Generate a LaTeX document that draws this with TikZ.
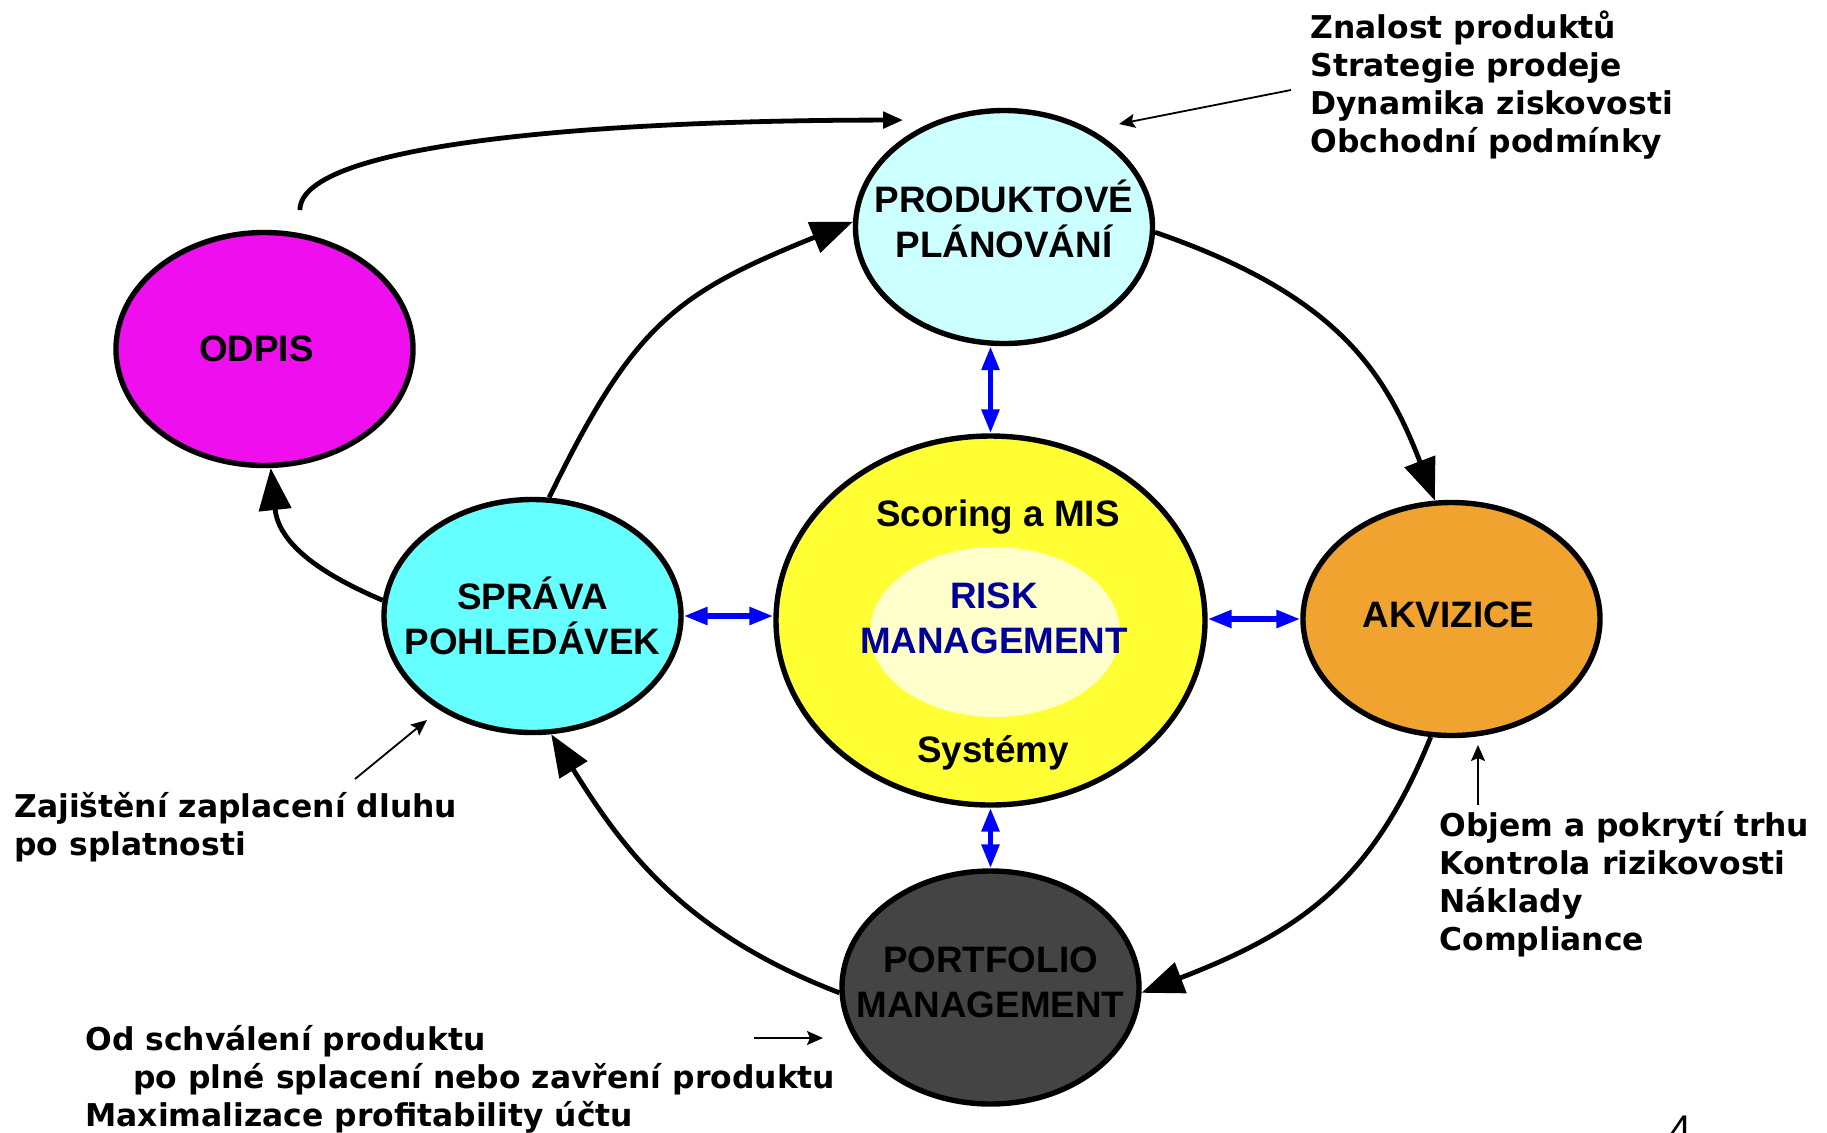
\documentclass[tikz,border=0pt]{standalone}
\usepackage{fontspec}
\setmainfont{Liberation Sans}
\newfontfamily\notefont{DejaVu Sans}
\usetikzlibrary{arrows.meta,shapes.geometric}
\definecolor{planfill}{RGB}{204,255,255}
\definecolor{odpisfill}{RGB}{238,14,238}
\definecolor{spravafill}{RGB}{102,255,255}
\definecolor{corefill}{RGB}{255,255,51}
\definecolor{innerfill}{RGB}{255,255,204}
\definecolor{akvfill}{RGB}{240,163,46}
\definecolor{portfill}{RGB}{68,68,68}
\definecolor{risknavy}{RGB}{0,0,153}
\begin{document}
\begin{tikzpicture}[x=0.5pt, y=-0.5pt]
\tikzset{every node/.style={inner sep=0pt}}
\useasboundingbox (0,0) rectangle (1827,1132);

% phases of the cycle
\tikzset{phase/.style={ellipse, draw, line width=2.7pt, minimum width=148.5pt, minimum height=116.5pt}}
\tikzset{every label/.style={font=\bfseries\fontsize{18.4}{22.5}\selectfont, align=center}}
\node[phase, fill=odpisfill, label={[xshift=-4pt]center:ODPIS}] (odpis) at (264.5,349) {};
\node[phase, fill=planfill, label={[yshift=4pt]center:{PRODUKTOVÉ\\PLÁNOVÁNÍ}}] (plan) at (1004,227) {};
\node[phase, fill=spravafill, label={center:{SPRÁVA\\POHLEDÁVEK}}] (sprava) at (532.5,616) {};
\node[phase, fill=akvfill, label={[xshift=-1.5pt, yshift=2pt]center:AKVIZICE}] (akvizice) at (1451.5,619) {};
\node[phase, fill=portfill, label={[yshift=2.5pt]center:{PORTFOLIO\\MANAGEMENT}}] (portfolio) at (990.5,987.5) {};

% risk management in the middle
\node[phase, fill=corefill, minimum width=214.5pt, minimum height=184.5pt] (core) at (990.5,620.5) {};
\node[ellipse, fill=innerfill, minimum width=125pt, minimum height=85pt] (inner) at (995,632) {};
\tikzset{every node/.style={inner sep=0pt, font=\bfseries\fontsize{18.4}{22.5}\selectfont}}
\node[anchor=base] (scoring) at (998,526) {Scoring a MIS};
\node[anchor=base] (systemy) at (993,762) {Systémy};
\node[text=risknavy, align=center] (risk) at (994,618) {RISK\\MANAGEMENT};

\tikzset{arrowstyle/.style={-{Triangle[length=21pt,width=16pt]}, line width=2.4pt}};
\path (sprava.82) edge [arrowstyle, out=64, in=202, looseness=1.2] (plan.178);
\path (plan.-2) edge [arrowstyle, out=-19, in=111, out looseness=1.25, in looseness=0.93] (akvizice.98);
\path (akvizice.-100) edge [arrowstyle, out=-112, in=21, out looseness=1.02, in looseness=1.14] (portfolio.-2);
\path (portfolio.182) edge [arrowstyle, out=159, in=-58, out looseness=1.1, in looseness=0.9] (sprava.-81);
\path (sprava.174) edge [arrowstyle, out=157, in=-84, out looseness=1.2, in looseness=1.04] (odpis.-87);
\tikzset{arrowstyle/.style={-{Triangle[length=10pt,width=8pt]}, line width=2.4pt}};
\draw[arrowstyle, shorten <=11.5pt, shorten >=17pt] (odpis.73) .. controls +(0,-90) and +(-335,0) .. (plan.122);

\tikzset{arrowstyle/.style={{Triangle[length=12pt,width=8.5pt]}-{Triangle[length=12pt,width=8.5pt]}, line width=2.8pt, blue}};
\draw[arrowstyle] (plan.south -| core.north) -- (core.north);
\draw[arrowstyle] (sprava.east) -- (sprava.east -| core.west);
\draw[arrowstyle] (core.east |- akvizice.west) -- (akvizice.west);
\draw[arrowstyle] (core.south) -- (portfolio.north);

% notes
\tikzset{arrowstyle/.style={-{Stealth[length=8pt,width=7pt,inset=1.5pt]}, line width=0.9pt}};
\coordinate (planTail) at (1291,90);
\coordinate (planTip) at (1119,124);
\coordinate (spravaTail) at (355,779);
\coordinate (spravaTip) at (427,720);
\coordinate (akvTail) at (1478,805);
\coordinate (akvTip) at (1478,745);
\coordinate (portTail) at (754,1038);
\coordinate (portTip) at (823,1038);
\draw[arrowstyle] (planTail) -- (planTip);
\draw[arrowstyle] (spravaTail) -- (spravaTip);
\draw[arrowstyle] (akvTail) -- (akvTip);
\draw[arrowstyle] (portTail) -- (portTip);

\tikzset{every node/.style={inner sep=0pt, anchor=base west, align=left, font=\notefont\bfseries\fontsize{15.7}{19}\selectfont}}
\node (planNotes) at (1310,152) {Znalost produktů\\Strategie prodeje\\Dynamika ziskovosti\\Obchodní podmínky};
\node (spravaNotes) at (14,855) {Zajištění zaplacení dluhu\\po splatnosti};
\node (akvNotes) at (1439,950) {Objem a pokrytí trhu\\Kontrola rizikovosti\\Náklady\\Compliance};
\node (portNotes) at (85,1126) {Od schválení produktu\\\hspace*{24pt}po plné splacení nebo zavření produktu\\Maximalizace profitability účtu};

\node[anchor=north, font=\fontsize{20}{24}\selectfont] (pagenum) at (1681,1116) {4};
\end{tikzpicture}
\end{document}
